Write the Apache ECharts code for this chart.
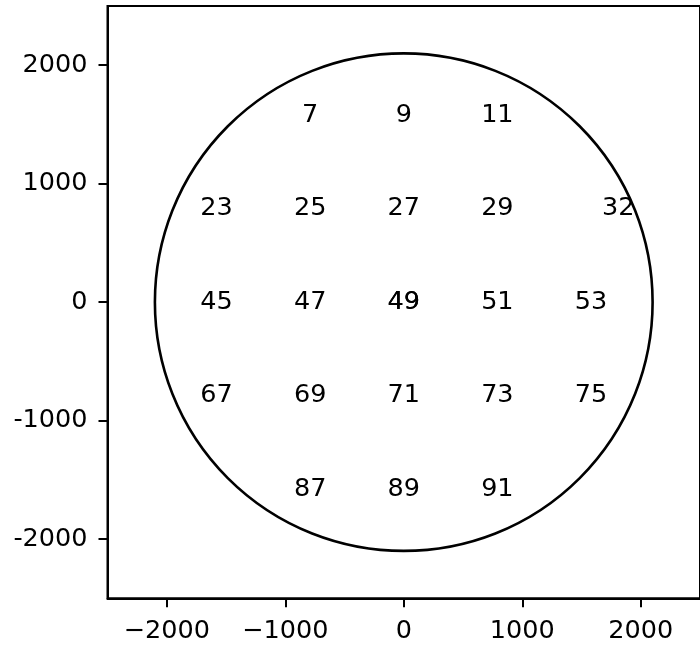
<!DOCTYPE html>
<html>
<head>
<meta charset="utf-8">
<script src="https://cdn.jsdelivr.net/npm/echarts@6/dist/echarts.min.js"></script>
<style>
html,body{margin:0;padding:0;background:#fff;}
#chart{width:700px;height:647px;}
</style>
</head>
<body>
<div id="chart"></div>
<script>
// ---- data ----
var labelText = ['7','9','11','23','25','27','29','32','45','47','49','49','51','53','67','69','71','73','75','87','89','91'];
var labelX = [-790,0,790,-1580,-790,0,790,1810,-1580,-790,0,0,790,1580,-1580,-790,0,790,1580,-790,0,790];
var labelY = [1580,1580,1580,790,790,790,790,790,0,0,0,0,0,0,-790,-790,-790,-790,-790,-1580,-1580,-1580];
var circleCenter = [0, 0];
var circleRadius = 2100;
var xTickValues = [-2000,-1000,0,1000,2000];
var xTickLabels = ['\u22122000','\u22121000','0','1000','2000'];
var yTickValues = [-2000,-1000,0,1000,2000];
var yTickLabels = ['-2000','-1000','0','1000','2000'];
var axisMin = -2500, axisMax = 2500;

var textPoints = labelText.map(function(t,i){ return [labelX[i], labelY[i], t]; });
var FONT = 'DejaVu Sans';

var chart = echarts.init(document.getElementById('chart'), null, {renderer:'canvas'});
chart.setOption({
  animation: false,
  backgroundColor: '#fff',
  grid: {left: 107.5, top: 6, right: -2, bottom: 48.7, show: true, borderColor: '#000', borderWidth: 2, backgroundColor: 'transparent'},
  xAxis: {
    type: 'value', min: axisMin, max: axisMax,
    axisLine: {onZero: false, lineStyle: {color: '#000', width: 2}},
    axisTick: {customValues: xTickValues, length: 9, lineStyle: {color: '#000', width: 2}},
    axisLabel: {customValues: xTickValues, color: '#000', fontSize: 25.5, fontFamily: FONT, margin: 20,
      formatter: function(v){ var k = xTickValues.indexOf(v); return k >= 0 ? xTickLabels[k] : ''; }},
    splitLine: {show: false}
  },
  yAxis: {
    type: 'value', min: axisMin, max: axisMax,
    axisLine: {onZero: false, lineStyle: {color: '#000', width: 2}},
    axisTick: {customValues: yTickValues, length: 9, lineStyle: {color: '#000', width: 2}},
    axisLabel: {customValues: yTickValues, color: '#000', fontSize: 25.5, fontFamily: FONT, margin: 20,
      padding: [4, 0, 0, 0],
      formatter: function(v){ var k = yTickValues.indexOf(v); return k >= 0 ? yTickLabels[k] : ''; }},
    splitLine: {show: false}
  },
  series: [
    {
      type: 'custom',
      data: [[circleCenter[0], circleCenter[1], circleRadius]],
      encode: {x: 0, y: 1},
      silent: true,
      renderItem: function(params, api){
        var c = api.coord([api.value(0), api.value(1)]);
        var s = api.size([api.value(2), api.value(2)]);
        return {
          type: 'circle',
          x: c[0], y: c[1],
          scaleY: s[1] / s[0],
          shape: {cx: 0, cy: 0, r: s[0]},
          style: {fill: 'none', stroke: '#000', lineWidth: 2.6}
        };
      }
    },
    {
      type: 'custom',
      data: textPoints,
      encode: {x: 0, y: 1},
      silent: true,
      renderItem: function(params, api){
        var p = api.coord([api.value(0), api.value(1)]);
        return {
          type: 'text',
          x: p[0], y: p[1],
          style: {text: String(textPoints[params.dataIndex][2]), fill: '#000', fontSize: 25.5, fontFamily: FONT, align: 'center', verticalAlign: 'middle'}
        };
      }
    }
  ]
});
</script>
</body>
</html>
